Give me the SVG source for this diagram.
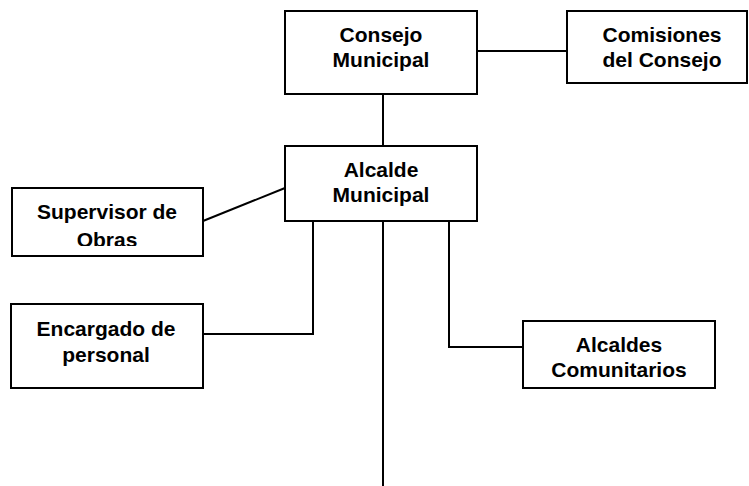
<svg xmlns="http://www.w3.org/2000/svg" width="749" height="486" viewBox="0 0 749 486">
<style>
.box{fill:#fff;stroke:#000;stroke-width:2}
.ln{fill:none;stroke:#000;stroke-width:2}
text{font-family:"Liberation Sans",Arial,sans-serif;font-weight:bold;font-size:21px;text-anchor:middle;fill:#000}
</style>
<defs>
<clipPath id="clipSup"><rect x="13" y="189" width="189" height="57"/></clipPath>
</defs>
<g id="connectors">
<line class="ln" x1="477" y1="51" x2="567" y2="51"/>
<line class="ln" x1="383" y1="94" x2="383" y2="146"/>
<line class="ln" x1="203" y1="221" x2="285" y2="188"/>
<polyline class="ln" points="313,221 313,334 203,334"/>
<line class="ln" x1="383" y1="221" x2="383" y2="486"/>
<polyline class="ln" points="449,221 449,347 523,347"/>
</g>
<g id="consejo">
<rect class="box" x="285" y="11" width="192" height="83"/>
<text x="381" y="42">Consejo</text>
<text x="381" y="67">Municipal</text>
</g>
<g id="comisiones">
<rect class="box" x="567" y="11" width="180" height="72"/>
<text x="662" y="42">Comisiones</text>
<text x="662" y="67">del Consejo</text>
</g>
<g id="alcalde">
<rect class="box" x="285" y="146" width="192" height="75"/>
<text x="381" y="177">Alcalde</text>
<text x="381" y="202">Municipal</text>
</g>
<g id="supervisor">
<rect class="box" x="12" y="188" width="191" height="68"/>
<g clip-path="url(#clipSup)">
<text x="107" y="219">Supervisor de</text>
<text x="107" y="247">Obras</text>
</g>
</g>
<g id="encargado">
<rect class="box" x="11" y="304" width="192" height="84"/>
<text x="106" y="336">Encargado de</text>
<text x="106" y="362">personal</text>
</g>
<g id="alcaldes">
<rect class="box" x="523" y="321" width="192" height="67"/>
<text x="619" y="352">Alcaldes</text>
<text x="619" y="377">Comunitarios</text>
</g>
</svg>
